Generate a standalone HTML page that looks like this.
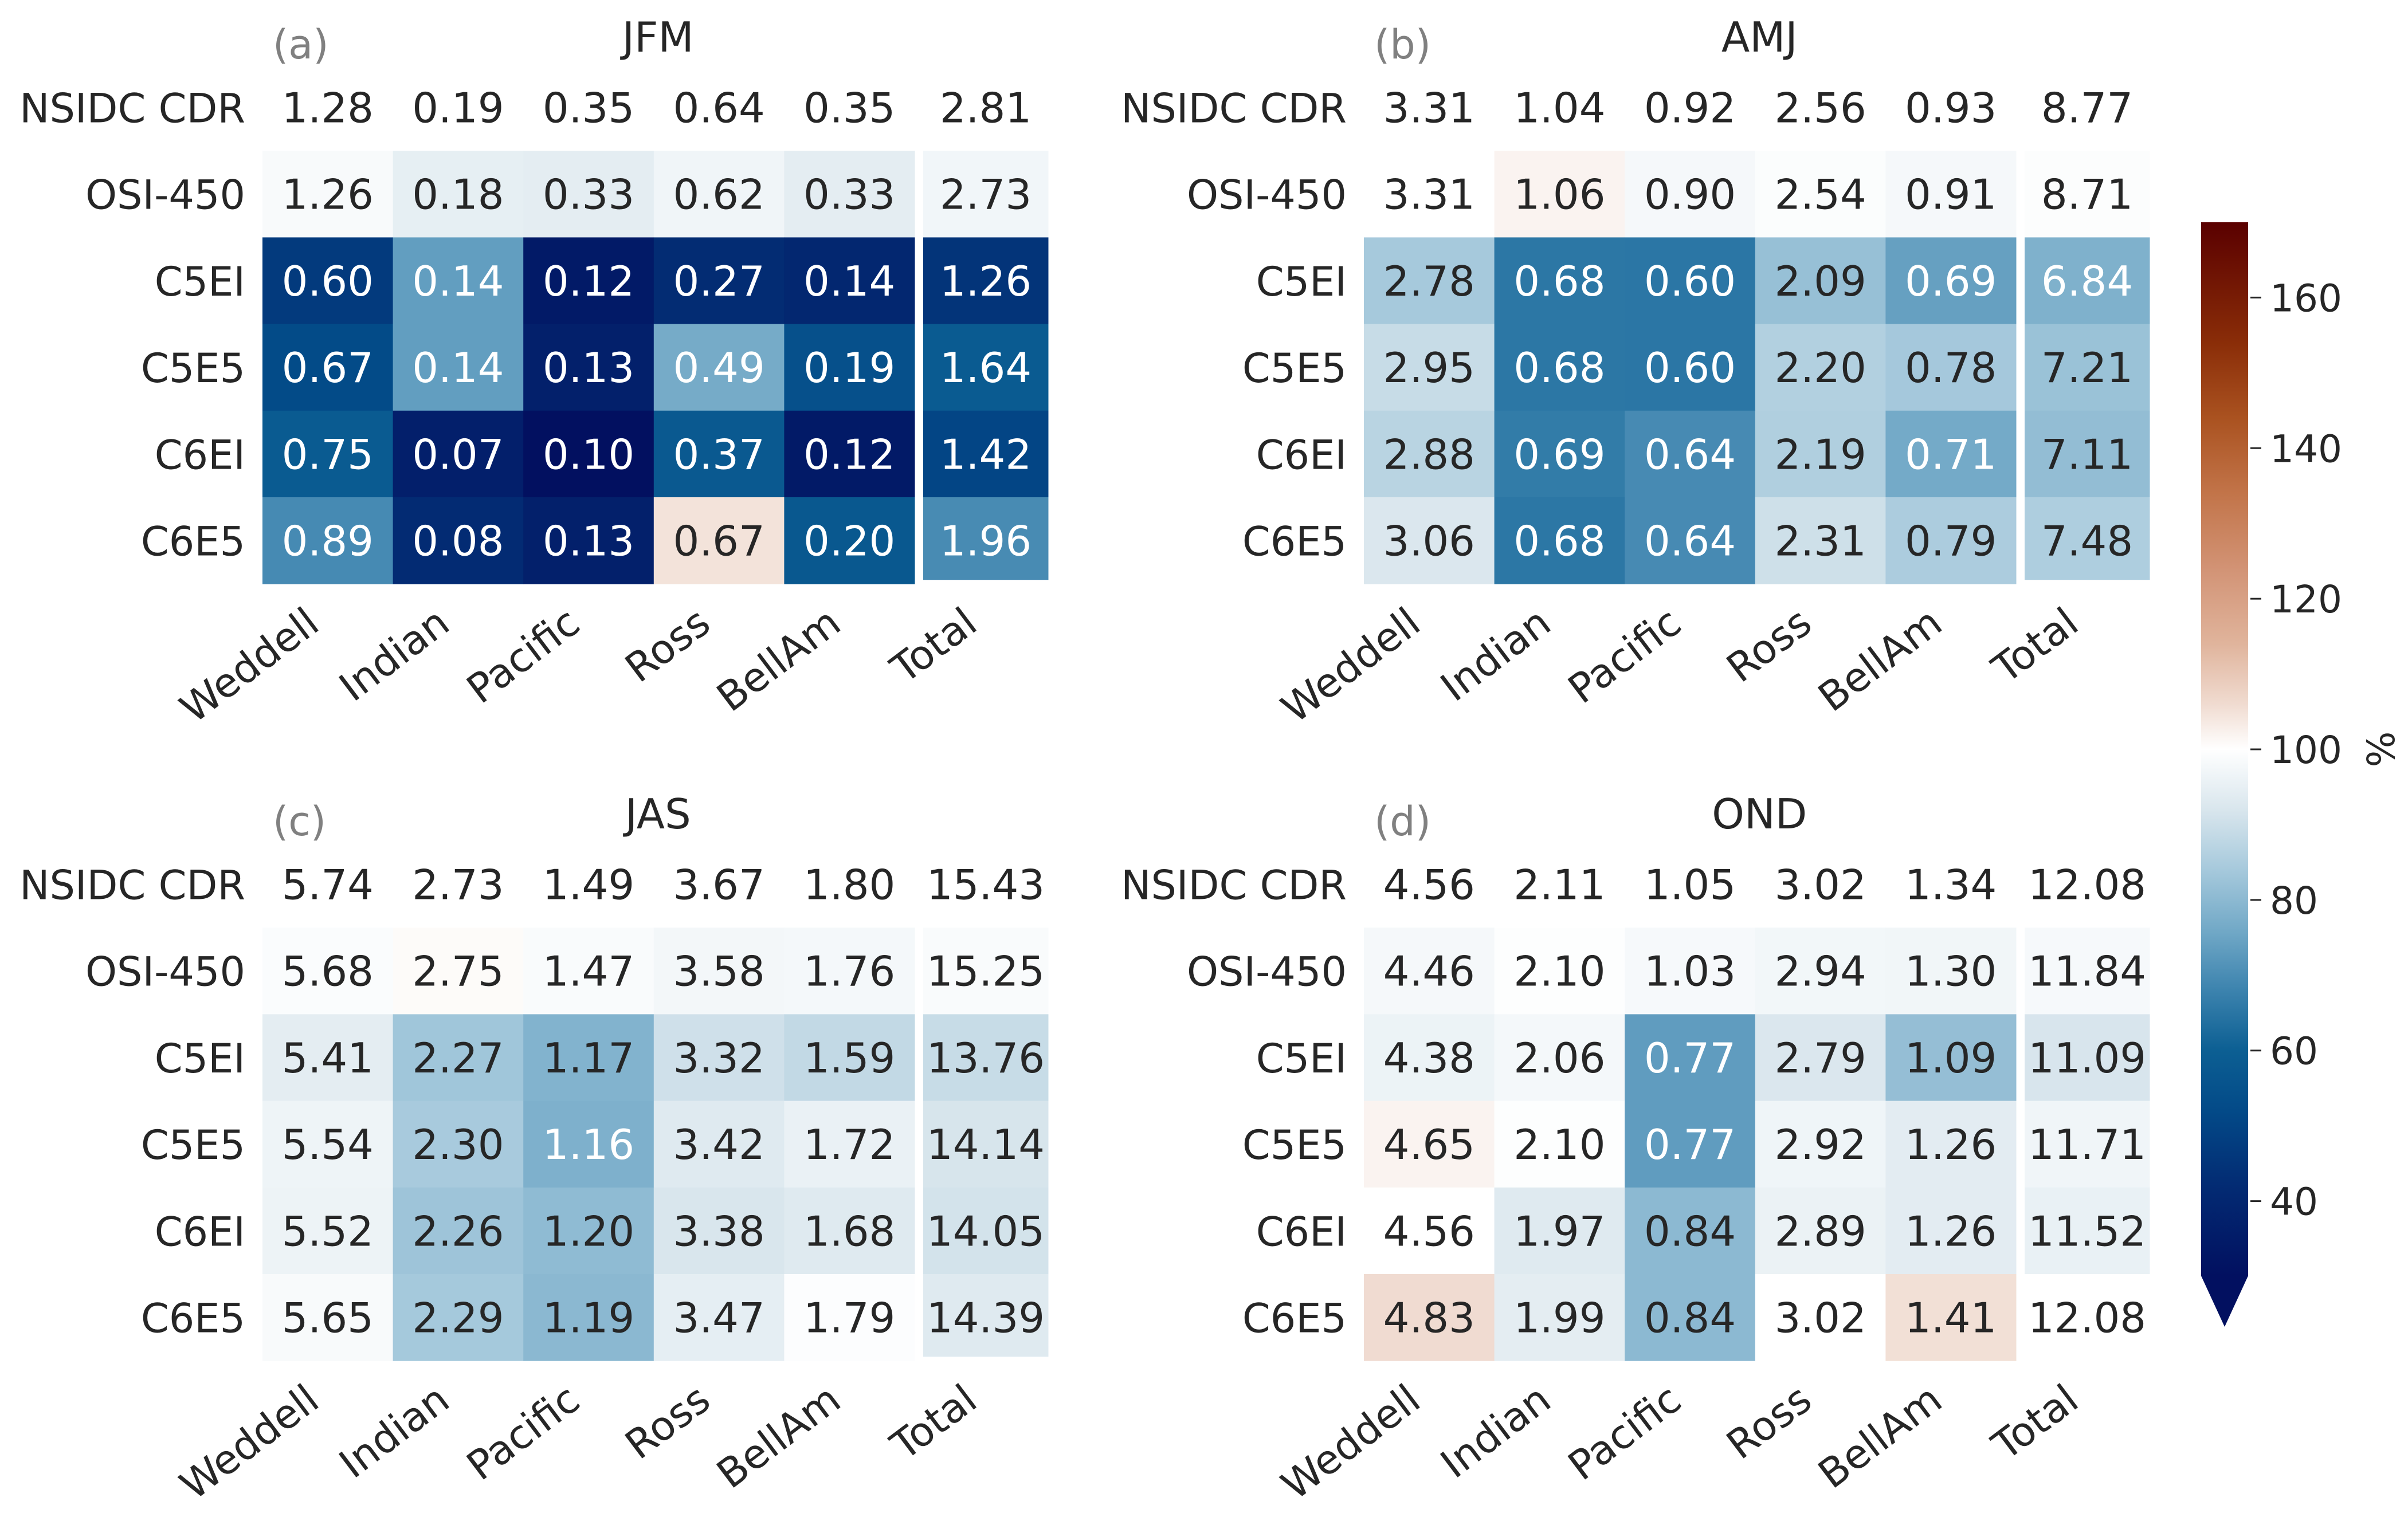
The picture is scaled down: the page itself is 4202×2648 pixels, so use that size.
<!DOCTYPE html>
<html><head><meta charset="utf-8">
<style>
html,body{margin:0;padding:0;background:#fff;}
svg{display:block;font-family:"DejaVu Sans","Liberation Sans",sans-serif;}
</style></head>
<body>
<svg id="fig" width="4202" height="2648" viewBox="0 0 4202 2648" xmlns="http://www.w3.org/2000/svg">
<defs>
<linearGradient id="cbgrad" x1="0" y1="1" x2="0" y2="0"></linearGradient>
</defs>
</svg>
<script>
const rowLabels = ["NSIDC CDR","OSI-450","C5EI","C5E5","C6EI","C6E5"];
const colLabels = ["Weddell","Indian","Pacific","Ross","BellAm","Total"];
const panelTitles = ["JFM","AMJ","JAS","OND"];
const panelTags = ["(a)","(b)","(c)","(d)"];
const valsJFM = [
 [1.28,0.19,0.35,0.64,0.35,2.81],
 [1.26,0.18,0.33,0.62,0.33,2.73],
 [0.60,0.14,0.12,0.27,0.14,1.26],
 [0.67,0.14,0.13,0.49,0.19,1.64],
 [0.75,0.07,0.10,0.37,0.12,1.42],
 [0.89,0.08,0.13,0.67,0.20,1.96]];
const valsAMJ = [
 [3.31,1.04,0.92,2.56,0.93,8.77],
 [3.31,1.06,0.90,2.54,0.91,8.71],
 [2.78,0.68,0.60,2.09,0.69,6.84],
 [2.95,0.68,0.60,2.20,0.78,7.21],
 [2.88,0.69,0.64,2.19,0.71,7.11],
 [3.06,0.68,0.64,2.31,0.79,7.48]];
const valsJAS = [
 [5.74,2.73,1.49,3.67,1.80,15.43],
 [5.68,2.75,1.47,3.58,1.76,15.25],
 [5.41,2.27,1.17,3.32,1.59,13.76],
 [5.54,2.30,1.16,3.42,1.72,14.14],
 [5.52,2.26,1.20,3.38,1.68,14.05],
 [5.65,2.29,1.19,3.47,1.79,14.39]];
const valsOND = [
 [4.56,2.11,1.05,3.02,1.34,12.08],
 [4.46,2.10,1.03,2.94,1.30,11.84],
 [4.38,2.06,0.77,2.79,1.09,11.09],
 [4.65,2.10,0.77,2.92,1.26,11.71],
 [4.56,1.97,0.84,2.89,1.26,11.52],
 [4.83,1.99,0.84,3.02,1.41,12.08]];
const cbTicks = [40,60,80,100,120,140,160];
const cbMin = 30, cbMax = 170;

const NS = "http://www.w3.org/2000/svg";
const svg = document.getElementById("fig");
function mk(tag, attrs, parent){
  const e = document.createElementNS(NS, tag);
  for (const k in attrs) e.setAttribute(k, attrs[k]);
  (parent||svg).appendChild(e);
  return e;
}
const cmapStops = [[30,"#021060"],[42,"#032b73"],[52,"#034a88"],[60,"#0c5f93"],[68,"#3c83ae"],[76,"#72a9c7"],[84,"#a6c9dc"],[92,"#d9e6ed"],[100,"#ffffff"],[106,"#f0dbd0"],[114,"#e0b49c"],[124,"#d29375"],[134,"#c27449"],[144,"#aa5220"],[154,"#8a2d08"],[170,"#5a0000"]];
function hex2rgb(h){return [parseInt(h.substr(1,2),16),parseInt(h.substr(3,2),16),parseInt(h.substr(5,2),16)];}
function cmap(v){
  v = Math.max(cbMin, Math.min(cbMax, v));
  for (let i=0;i<cmapStops.length-1;i++){
    const [a,ca]=cmapStops[i],[b,cb]=cmapStops[i+1];
    if (v>=a && v<=b){
      const t=(v-a)/(b-a), A=hex2rgb(ca), B=hex2rgb(cb);
      return A.map((x,j)=>Math.round(x+(B[j]-x)*t));
    }
  }
  return hex2rgb(cmapStops[cmapStops.length-1][1]);
}
function lum(rgb){
  const c = rgb.map(x=>{x/=255;return x<=0.03928?x/12.92:Math.pow((x+0.055)/1.055,2.4);});
  return 0.2126*c[0]+0.7152*c[1]+0.0722*c[2];
}
const allVals = [valsJFM, valsAMJ, valsJAS, valsOND];
const panelX = [458, 2380, 458, 2380];
const panelY = [112, 112, 1468, 1468];
const colW = 227.6, rowH = 151.2, totalGap = 15;
const FS = 72;

function xCol(j){ return j<5 ? j*colW : 5*colW + totalGap; }
function wCol(j){ return j<5 ? colW : 218; }

for (let p=0;p<4;p++){
  const g = mk("g",{transform:`translate(${panelX[p]},${panelY[p]})`});
  
  
  const vals = allVals[p];
  for (let r=0;r<6;r++){
    for (let c=0;c<6;c++){
      const pct = vals[r][c]/vals[0][c]*100;
      const rgb = cmap(pct);
      const rect = mk("rect",{x:xCol(c),y:r*rowH,width:wCol(c)+0.5,height:(c===5 && r===5)?rowH-7:rowH+0.5,fill:`rgb(${rgb.join(",")})`},g);
      
      
      const t = mk("text",{x:xCol(c)+wCol(c)/2,y:r*rowH+rowH/2+FS*0.36,"text-anchor":"middle","font-size":FS,fill:lum(rgb)>0.408?"#262626":"#ffffff"},g);
      t.textContent = vals[r][c].toFixed(2);
      
      
    }
    const rl = mk("text",{x:-30,y:r*rowH+rowH/2+FS*0.36,"text-anchor":"end","font-size":70,fill:"#262626"},g);
    rl.textContent = rowLabels[r];
    
    
  }
  for (let c=0;c<6;c++){
    const cx = xCol(c)+wCol(c)/2 - 42;
    const cy = 6*rowH + 36;
    const xl = mk("text",{x:0,y:0,"text-anchor":"end","dominant-baseline":"hanging","font-size":70,fill:"#262626",transform:`translate(${cx},${cy}) rotate(-37)`},g);
    xl.textContent = colLabels[c];
    
    
  }
  const tt = mk("text",{x:(6*colW+totalGap)/2,y:-22,"text-anchor":"middle","font-size":72,fill:"#262626"},g);
  tt.textContent = panelTitles[p];
  
  
  const tg = mk("text",{x:18,y:-10,"font-size":70,fill:"#808080"},g);
  tg.textContent = panelTags[p];
  
  
}

const cbX = 3841, cbW = 82, cbTop = 388, cbBot = 2228, tip = 2316;
function yCb(v){ return cbBot - (v-cbMin)/(cbMax-cbMin)*(cbBot-cbTop); }
const grad = document.getElementById("cbgrad");
cmapStops.forEach(s=>{
  mk("stop",{offset:((s[0]-cbMin)/(cbMax-cbMin)).toFixed(4),"stop-color":s[1]},grad);
});
const cb = mk("rect",{x:cbX,y:cbTop,width:cbW,height:cbBot-cbTop,fill:"url(#cbgrad)"});


const ext = mk("polygon",{points:`${cbX},${cbBot-1} ${cbX+cbW},${cbBot-1} ${cbX+cbW/2},${tip}`,fill:cmapStops[0][1]});


cbTicks.forEach(v=>{
  const y = yCb(v);
  const ln = mk("line",{x1:cbX+cbW+4,x2:cbX+cbW+23,y1:y,y2:y,stroke:"#262626","stroke-width":3});
  
  
  const t = mk("text",{x:3961,y:y+24,"font-size":66,fill:"#262626"});
  t.textContent = v;
  
  
});
const pc = mk("text",{x:0,y:0,"text-anchor":"middle","font-size":66,fill:"#262626",transform:`translate(4130,${yCb(100)}) rotate(90)`});
pc.textContent = "%";


</script>
</body></html>
